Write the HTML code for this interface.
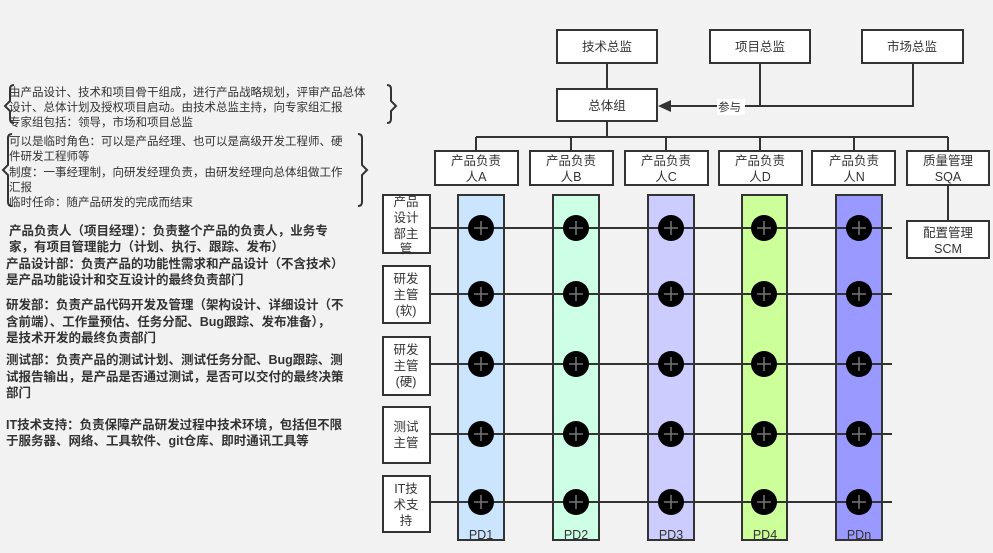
<!DOCTYPE html>
<html><head><meta charset="utf-8"><style>
html,body{margin:0;padding:0;background:#f2f2f2;}
svg{display:block;font-family:"Liberation Sans","Noto Sans CJK SC",sans-serif;}
.b{fill:#fff;stroke:#333;stroke-width:2;}
.t{font-size:12.5px;fill:#333;text-anchor:middle;}
.l{font-size:11.5px;fill:#333;}
.bd{font-size:12.5px;fill:#333;font-weight:bold;}
.ln{stroke:#333;stroke-width:2;fill:none;}
</style></head><body>
<svg width="993" height="553" viewBox="0 0 993 553">
<rect width="993" height="553" fill="#f2f2f2"/>
<!-- top -->
<rect class="b" x="557" y="30" width="100" height="33"/><text class="t" x="607" y="51">技术总监</text>
<rect class="b" x="710" y="30" width="100" height="33"/><text class="t" x="760" y="51">项目总监</text>
<rect class="b" x="862" y="30" width="101" height="33"/><text class="t" x="912" y="51">市场总监</text>
<rect class="b" x="557" y="89" width="100" height="32"/><text class="t" x="607" y="110">总体组</text>
<path class="ln" d="M607 63V89M760 63V106M913 63V106H670"/>
<polygon points="658,106 671,100 671,112" fill="#333"/>
<rect x="717" y="99" width="28" height="16" fill="#fff"/><text class="l" x="718" y="111">参与</text>
<!-- bus -->
<path class="ln" d="M607 121V137M476 137H948M476 137V151M571 137V151M666 137V151M760 137V151M854 137V151M948 137V151M948 185V221"/>
<rect class="b" x="435" y="151" width="83" height="34"/><text class="t" x="476" y="165">产品负责</text><text class="t" x="476" y="181">人A</text>
<rect class="b" x="530" y="151" width="83" height="34"/><text class="t" x="571" y="165">产品负责</text><text class="t" x="571" y="181">人B</text>
<rect class="b" x="625" y="151" width="83" height="34"/><text class="t" x="666" y="165">产品负责</text><text class="t" x="666" y="181">人C</text>
<rect class="b" x="719" y="151" width="83" height="34"/><text class="t" x="760" y="165">产品负责</text><text class="t" x="760" y="181">人D</text>
<rect class="b" x="812" y="151" width="83" height="34"/><text class="t" x="854" y="165">产品负责</text><text class="t" x="854" y="181">人N</text>
<rect class="b" x="907" y="151" width="82" height="34"/><text class="t" x="948" y="165">质量管理</text><text class="t" x="948" y="181">SQA</text>
<rect class="b" x="907" y="221" width="82" height="37"/><text class="t" x="948" y="237">配置管理</text><text class="t" x="948" y="253">SCM</text>
<!-- columns -->
<rect x="458" y="195" width="46" height="345" fill="#cce5ff" stroke="#333" stroke-width="2"/>
<rect x="553" y="195" width="46" height="345" fill="#ccffe6" stroke="#333" stroke-width="2"/>
<rect x="648" y="195" width="46" height="345" fill="#ccccff" stroke="#333" stroke-width="2"/>
<rect x="742" y="195" width="45" height="345" fill="#ccff99" stroke="#333" stroke-width="2"/>
<rect x="836" y="195" width="46" height="345" fill="#9999ff" stroke="#333" stroke-width="2"/>
<g class="t" style="font-size:12.5px"><text class="t" x="481" y="539">PD1</text><text class="t" x="576" y="539">PD2</text><text class="t" x="671" y="539">PD3</text><text class="t" x="765" y="539">PD4</text><text class="t" x="859" y="539">PDn</text></g>
<!-- left boxes -->
<rect class="b" x="383" y="195" width="47" height="58"/>
<text class="t" x="406" y="206">产品</text><text class="t" x="406" y="222">设计</text><text class="t" x="406" y="238">部主</text><text class="t" x="406" y="253">管</text>
<rect class="b" x="383" y="266" width="47" height="57"/>
<text class="t" x="406" y="283">研发</text><text class="t" x="406" y="299">主管</text><text class="t" x="406" y="315">(软)</text>
<rect class="b" x="383" y="337" width="47" height="58"/>
<text class="t" x="406" y="354">研发</text><text class="t" x="406" y="370">主管</text><text class="t" x="406" y="386">(硬)</text>
<rect class="b" x="383" y="407" width="47" height="56"/>
<text class="t" x="406" y="431">测试</text><text class="t" x="406" y="447">主管</text>
<rect class="b" x="383" y="476" width="47" height="56"/>
<text class="t" x="406" y="493">IT技</text><text class="t" x="406" y="509">术支</text><text class="t" x="406" y="525">持</text>
<!-- rows -->
<path class="ln" d="M430 228H892M430 294H892M430 364H892M430 434H892M430 502H892"/>
<g id="c">
</g>
<g fill="#000">
<circle cx="481" cy="228" r="13"/><circle cx="576" cy="228" r="13"/><circle cx="671" cy="228" r="13"/><circle cx="764" cy="228" r="13"/><circle cx="859" cy="228" r="13"/>
<circle cx="481" cy="294" r="13"/><circle cx="576" cy="294" r="13"/><circle cx="671" cy="294" r="13"/><circle cx="764" cy="294" r="13"/><circle cx="859" cy="294" r="13"/>
<circle cx="481" cy="364" r="13"/><circle cx="576" cy="364" r="13"/><circle cx="671" cy="364" r="13"/><circle cx="764" cy="364" r="13"/><circle cx="859" cy="364" r="13"/>
<circle cx="481" cy="434" r="13"/><circle cx="576" cy="434" r="13"/><circle cx="671" cy="434" r="13"/><circle cx="764" cy="434" r="13"/><circle cx="859" cy="434" r="13"/>
<circle cx="481" cy="502" r="13"/><circle cx="576" cy="502" r="13"/><circle cx="671" cy="502" r="13"/><circle cx="764" cy="502" r="13"/><circle cx="859" cy="502" r="13"/>
</g>
<path stroke="#777" stroke-width="1.5" d="M474 228h14M481 221v14M569 228h14M576 221v14M664 228h14M671 221v14M757 228h14M764 221v14M852 228h14M859 221v14
M474 294h14M481 287v14M569 294h14M576 287v14M664 294h14M671 287v14M757 294h14M764 287v14M852 294h14M859 287v14
M474 364h14M481 357v14M569 364h14M576 357v14M664 364h14M671 357v14M757 364h14M764 357v14M852 364h14M859 357v14
M474 434h14M481 427v14M569 434h14M576 427v14M664 434h14M671 427v14M757 434h14M764 427v14M852 434h14M859 427v14
M474 502h14M481 495v14M569 502h14M576 502v0M576 495v14M664 502h14M671 495v14M757 502h14M764 495v14M852 502h14M859 495v14"/>
<!-- left notes -->
<path class="ln" stroke-width="1.5" d="M14 85q-4 0-4 4v12l-5 5 5 5v8q0 4 4 4M387 85q4 0 4 4v12l5 5-5 5v8q0 4-4 4"/>
<text class="l" x="9" y="96">由产品设计、技术和项目骨干组成，进行产品战略规划，评审产品总体</text>
<text class="l" x="9" y="111">设计、总体计划及授权项目启动。由技术总监主持，向专家组汇报</text>
<text class="l" x="9" y="126">专家组包括：领导，市场和项目总监</text>
<path class="ln" stroke-width="1.5" d="M12 134q-4 0-4 4v27l-5 5 5 5v27q0 4 4 4M358 134q4 0 4 4v27l5 5-5 5v27q0 4-4 4"/>
<text class="l" x="9" y="145">可以是临时角色：可以是产品经理、也可以是高级开发工程师、硬</text>
<text class="l" x="9" y="160">件研发工程师等</text>
<text class="l" x="9" y="176">制度：一事经理制，向研发经理负责，由研发经理向总体组做工作</text>
<text class="l" x="9" y="191">汇报</text>
<text class="l" x="9" y="206">临时任命：随产品研发的完成而结束</text>
<text class="bd" x="9" y="235">产品负责人（项目经理）：负责整个产品的负责人，业务专</text>
<text class="bd" x="9" y="251">家，有项目管理能力（计划、执行、跟踪、发布）</text>
<text class="bd" x="6" y="268">产品设计部：负责产品的功能性需求和产品设计（不含技术）</text>
<text class="bd" x="6" y="284">是产品功能设计和交互设计的最终负责部门</text>
<text class="bd" x="6" y="309">研发部：负责产品代码开发及管理（架构设计、详细设计（不</text>
<text class="bd" x="6" y="326">含前端）、工作量预估、任务分配、Bug跟踪、发布准备），</text>
<text class="bd" x="6" y="342">是技术开发的最终负责部门</text>
<text class="bd" x="6" y="364">测试部：负责产品的测试计划、测试任务分配、Bug跟踪、测</text>
<text class="bd" x="6" y="381">试报告输出，是产品是否通过测试，是否可以交付的最终决策</text>
<text class="bd" x="6" y="397">部门</text>
<text class="bd" x="6" y="429">IT技术支持：负责保障产品研发过程中技术环境，包括但不限</text>
<text class="bd" x="6" y="445">于服务器、网络、工具软件、git仓库、即时通讯工具等</text>
</svg>
</body></html>
